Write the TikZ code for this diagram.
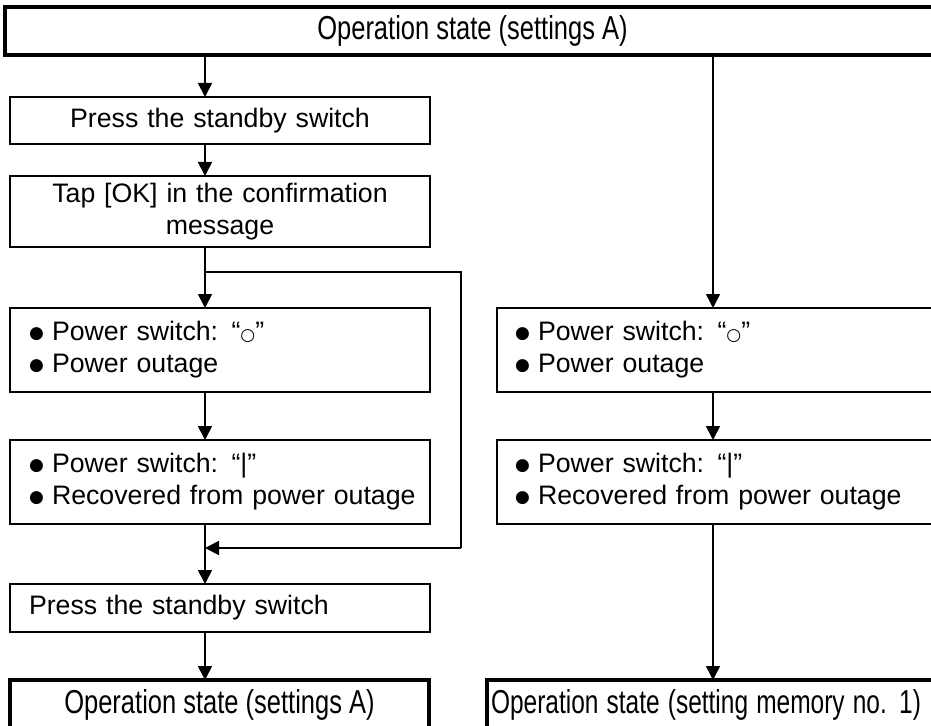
\documentclass[tikz,border=0pt]{standalone}
\usepackage{fontspec}
\usepackage{graphicx}
\setmainfont{Liberation Sans}
\newfontfamily\symf{DejaVu Sans}
\usetikzlibrary{arrows.meta}
\newcommand\mybul{\makebox[23bp][l]{\raisebox{2bp}{\symf\fontsize{17bp}{15bp}\selectfont ●}}}
\newcommand\mycirc{{\symf\fontsize{17bp}{15bp}\selectfont ○}}
\newcommand\opstate[1]{\scalebox{1}[1.3]{#1}}
\hbadness=10000 \hfuzz=100pt
\tikzset{
  box/.style={draw, line width=1.5bp, anchor=north west, inner ysep=0pt, outer sep=0pt,
    font=\fontsize{26.7bp}{32bp}\selectfont},
  cbox/.style={box, text width=382bp, inner xsep=19bp, align=center},
  lbox/.style={box, text width=382bp, inner xsep=19bp, align=left},
  rbox/.style={box, text width=430bp, inner xsep=18bp, align=left},
  tbox/.style={box, line width=3.5bp, font=\fontsize{25.5bp}{31bp}\selectfont},
  thin/.style={line width=1.5bp},
  arr/.style={line width=1.8bp, -{Triangle[width=14bp,length=14bp]}},
}
\begin{document}
\begin{tikzpicture}[x=1bp, y=-1bp]
\useasboundingbox (0,0) rectangle (931,726);
\clip (0,0) rectangle (931,726);
% boxes
\node[tbox, minimum width=935bp, minimum height=48bp, align=center] (top) at (5,7) {\opstate{Operation state (settings A)}};
\node[cbox, minimum height=47bp] (A) at (10,97) {Press the standby switch};
\node[cbox, minimum height=71bp] (B) at (10,176) {Tap [OK] in the confirmation\\message};
\node[lbox, minimum height=84bp] (C) at (10,308) {\mbox{\mybul Power switch: “\mycirc”}\\\mbox{\mybul Power outage}};
\node[lbox, minimum height=84bp] (D) at (10,440) {\mbox{\mybul Power switch: “|”}\\\mbox{\mybul Recovered from power outage}};
\node[lbox, minimum height=48bp] (E) at (10,584) {Press the standby switch};
\node[tbox, minimum width=419bp, minimum height=50bp, align=center] (F) at (10,680) {\opstate{Operation state (settings A)}};
\node[rbox, minimum height=84bp] (C2) at (497,308) {\mbox{\mybul Power switch: “\mycirc”}\\\mbox{\mybul Power outage}};
\node[rbox, minimum height=84bp] (D2) at (497,440) {\mbox{\mybul Power switch: “|”}\\\mbox{\mybul Recovered from power outage}};
\node[tbox, minimum width=470bp, minimum height=50bp, inner xsep=4bp, text width=462bp, align=left] (G) at (487,680) {\scalebox{0.96}[1.3]{Operation state (setting memory no. 1)}};
% helper coordinates
\coordinate (cx) at (205,0);
\coordinate (rx) at (713,0);
\coordinate (br) at (205,272);
\coordinate (lp) at (205,548);
\coordinate (brR) at (461,272);
\coordinate (lpR) at (461,548);
% left column
\draw[arr] (top.south -| cx) -- (A.north -| cx);
\draw[arr] (A.south -| cx) -- (B.north -| cx);
\draw[arr] (B.south -| cx) -- (C.north -| cx);
\draw[arr] (C.south -| cx) -- (D.north -| cx);
\draw[arr] (D.south -| cx) -- (E.north -| cx);
\draw[arr] (E.south -| cx) -- (F.north -| cx);
% bypass loop
\draw[thin] (br) -- (brR) -- (lpR);
\draw[arr] (lpR) -- (lp);
% right column
\draw[thin, -{Triangle[width=14bp,length=14bp]}] (top.south -| rx) -- (C2.north -| rx);
\draw[arr] (C2.south -| rx) -- (D2.north -| rx);
\draw[thin, -{Triangle[width=14bp,length=14bp]}] (D2.south -| rx) -- (G.north -| rx);
\end{tikzpicture}
\end{document}
